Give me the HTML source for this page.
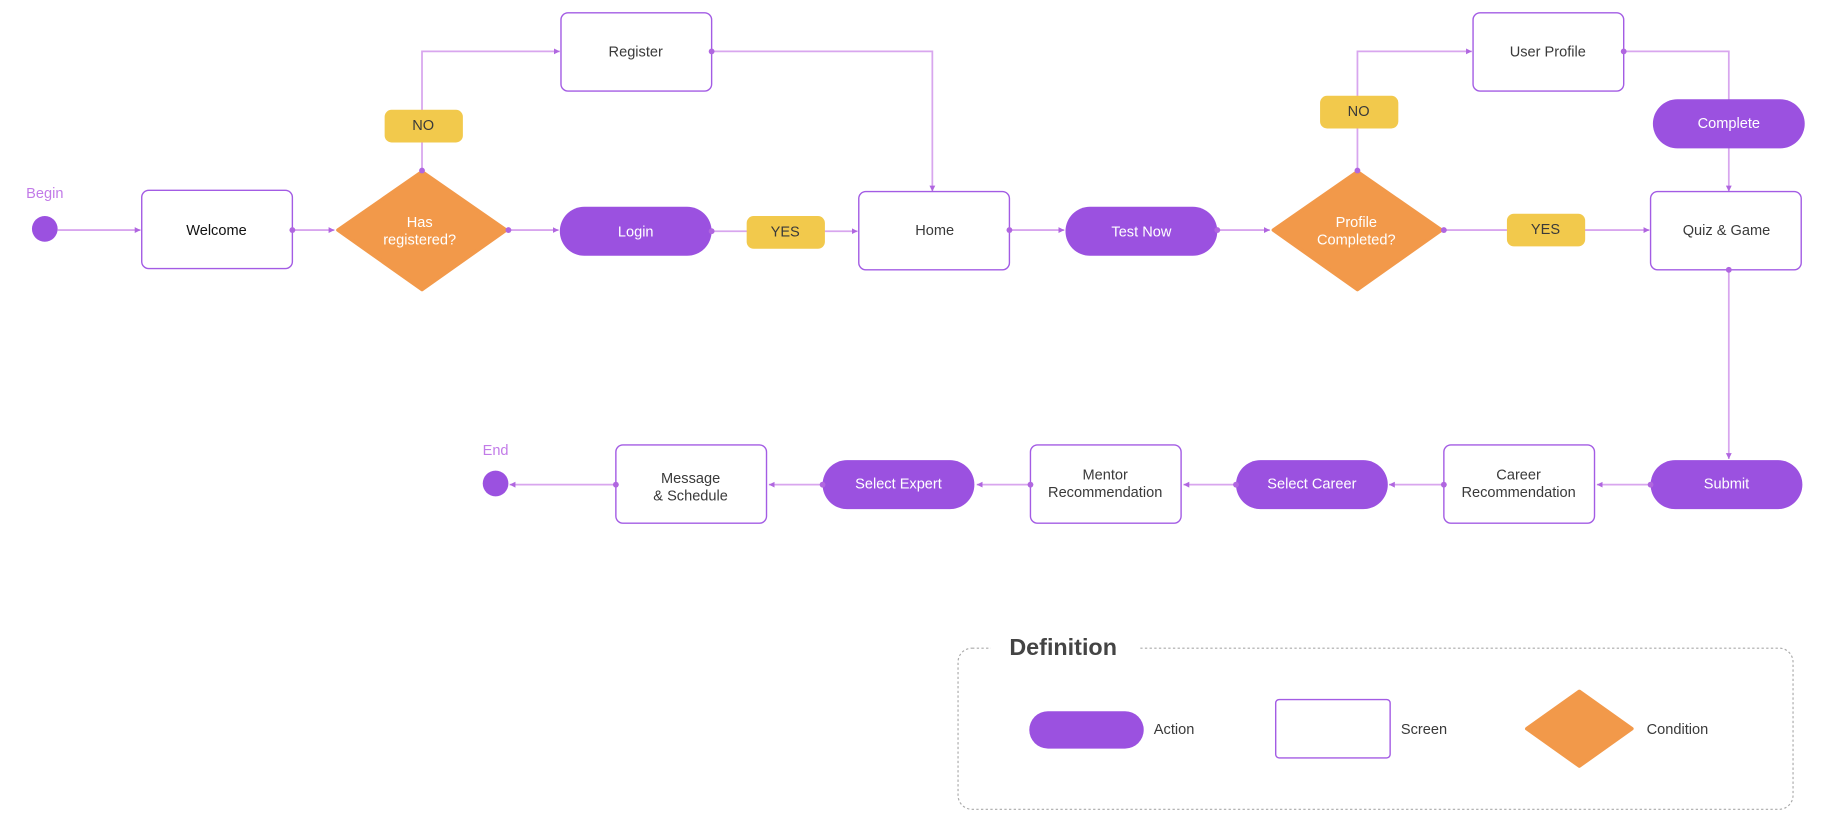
<!DOCTYPE html>
<html><head><meta charset="utf-8"><style>
html,body{margin:0;padding:0;background:#fff}
svg{display:block}
text{font-family:"Liberation Sans",sans-serif;font-size:12.5px;text-anchor:middle;dominant-baseline:central}
.box{fill:#fff;stroke:#a35ce4;stroke-width:1.2}
.pill{fill:#9b51e0}
.dia{fill:#f2994a}
.lab{fill:#f2c94c}
.ln{fill:none;stroke:#d8a6ee;stroke-width:1.5}
.w{fill:#fff}
.d{fill:#3a3a3a}
.dot{fill:#b066e0}
</style></head><body>
<svg width="1832" height="835" viewBox="0 0 1568 715" xmlns="http://www.w3.org/2000/svg">
<defs><marker id="a" markerUnits="userSpaceOnUse" markerWidth="6" markerHeight="6" refX="5" refY="3" orient="auto"><path d="M0,0.5L5,3L0,5.5z" fill="#b066e0"/></marker></defs>
<g class="ln" marker-end="url(#a)">
<path d="M49 197H120"/>
<path d="M250 197H286"/>
<path d="M361 146V44H479"/>
<path d="M609 44H798V164"/>
<path d="M435 197H478"/>
<path d="M609 198H734"/>
<path d="M864 197H911"/>
<path d="M1042 197H1087"/>
<path d="M1162 146V44H1260"/>
<path d="M1390 44H1480V164"/>
<path d="M1236 197H1412"/>
<path d="M1480 231V393"/>
<path d="M1413 415H1367"/>
<path d="M1236 415H1189"/>
<path d="M1058 415H1013"/>
<path d="M882 415H836"/>
<path d="M704 415H658"/>
<path d="M527 415H436"/>
</g>
<text x="38" y="166" style="fill:#c27be8">Begin</text>
<circle cx="38" cy="196" r="11" fill="#9b51e0"/>
<text x="424" y="386" style="fill:#c27be8">End</text>
<circle cx="424" cy="414" r="11" fill="#9b51e0"/>
<rect class="box" x="121" y="163" width="129" height="67" rx="6"/><text x="185" y="198" style="fill:#111">Welcome</text>
<rect class="box" x="480" y="11" width="129" height="67" rx="6"/><text class="d" x="544" y="45">Register</text>
<rect class="box" x="735" y="164" width="129" height="67" rx="6"/><text class="d" x="800" y="198">Home</text>
<rect class="box" x="1261" y="11" width="129" height="67" rx="6"/><text class="d" x="1325" y="45">User Profile</text>
<rect class="box" x="1413" y="164" width="129" height="67" rx="6"/><text class="d" x="1478" y="198">Quiz &amp; Game</text>
<rect class="box" x="1236" y="381" width="129" height="67" rx="6"/><text class="d" x="1300" y="407">Career</text><text class="d" x="1300" y="422">Recommendation</text>
<rect class="box" x="882" y="381" width="129" height="67" rx="6"/><text class="d" x="946" y="407">Mentor</text><text class="d" x="946" y="422">Recommendation</text>
<rect class="box" x="527" y="381" width="129" height="67" rx="6"/><text class="d" x="591" y="410">Message</text><text class="d" x="591" y="425">&amp; Schedule</text>
<rect class="pill" x="479" y="177" width="130" height="42" rx="21"/><text class="w" x="544" y="199">Login</text>
<rect class="pill" x="912" y="177" width="130" height="42" rx="21"/><text class="w" x="977" y="199">Test Now</text>
<rect class="pill" x="1415" y="85" width="130" height="42" rx="21"/><text class="w" x="1480" y="106">Complete</text>
<rect class="pill" x="1413" y="394" width="130" height="42" rx="21"/><text class="w" x="1478" y="415">Submit</text>
<rect class="pill" x="1058" y="394" width="130" height="42" rx="21"/><text class="w" x="1123" y="415">Select Career</text>
<rect class="pill" x="704" y="394" width="130" height="42" rx="21"/><text class="w" x="769" y="415">Select Expert</text>
<path class="dia" d="M361 147L433 197L361 248L289 197Z" stroke="#f2994a" stroke-width="3" stroke-linejoin="round"/>
<text class="w" x="359" y="191">Has</text><text class="w" x="359" y="206">registered?</text>
<path class="dia" d="M1162 147L1234 197L1162 248L1090 197Z" stroke="#f2994a" stroke-width="3" stroke-linejoin="round"/>
<text class="w" x="1161" y="191">Profile</text><text class="w" x="1161" y="206">Completed?</text>
<rect class="lab" x="329" y="94" width="67" height="28" rx="6"/><text class="d" x="362" y="108">NO</text>
<rect class="lab" x="639" y="185" width="67" height="28" rx="6"/><text class="d" x="672" y="199">YES</text>
<rect class="lab" x="1130" y="82" width="67" height="28" rx="6"/><text class="d" x="1163" y="96">NO</text>
<rect class="lab" x="1290" y="183" width="67" height="28" rx="6"/><text class="d" x="1323" y="197">YES</text>
<g class="dot">
<circle cx="250" cy="197" r="2.5"/><circle cx="361" cy="146" r="2.5"/><circle cx="435" cy="197" r="2.5"/>
<circle cx="609" cy="44" r="2.5"/><circle cx="609" cy="198" r="2.5"/><circle cx="864" cy="197" r="2.5"/>
<circle cx="1042" cy="197" r="2.5"/><circle cx="1162" cy="146" r="2.5"/><circle cx="1236" cy="197" r="2.5"/>
<circle cx="1390" cy="44" r="2.5"/><circle cx="1480" cy="231" r="2.5"/><circle cx="1413" cy="415" r="2.5"/>
<circle cx="1236" cy="415" r="2.5"/><circle cx="1058" cy="415" r="2.5"/><circle cx="882" cy="415" r="2.5"/>
<circle cx="704" cy="415" r="2.5"/><circle cx="527" cy="415" r="2.5"/>
</g>
<rect x="820" y="555" width="715" height="138" rx="12" fill="none" stroke="#aaa" stroke-dasharray="2 2"/>
<rect x="848" y="545" width="128" height="20" fill="#fff"/>
<text x="910" y="554" style="font-size:20px;font-weight:bold;fill:#444">Definition</text>
<rect class="pill" x="881" y="609" width="98" height="32" rx="16"/><text class="d" x="1005" y="625">Action</text>
<rect class="box" x="1092" y="599" width="98" height="50" rx="3"/><text class="d" x="1219" y="625">Screen</text>
<path class="dia" d="M1352 592L1397 624L1352 656L1307 624Z" stroke="#f2994a" stroke-width="3" stroke-linejoin="round"/><text class="d" x="1436" y="625">Condition</text>
</svg>
</body></html>
